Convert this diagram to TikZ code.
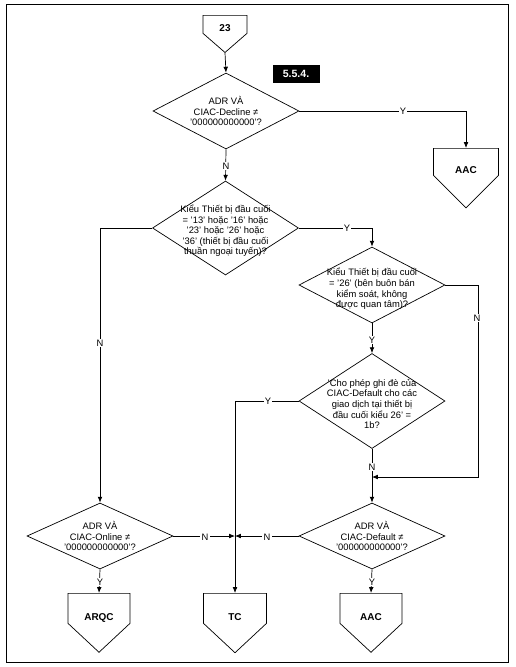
\documentclass[tikz,border=0pt]{standalone}
\usepackage{fontspec}
\setmainfont{Liberation Sans}
\usetikzlibrary{shapes.geometric,shapes.symbols,arrows.meta}

\tikzset{
  decision/.style={diamond, draw, semithick, inner sep=0pt, minimum width=4.38cm, minimum height=#1},
  decision/.default=2.28cm,
  qtext/.style={align=center, font=\fontsize{8}{9}\selectfont},
  offpage/.style={signal, signal to=south, signal pointer angle=94, draw, semithick, inner sep=0pt,
    minimum width=1.86cm, minimum height=0.9cm, text height=0.825cm, text depth=0.075cm,
    font=\fontsize{8.5}{10}\selectfont\bfseries},
  yn/.style={fill=white, inner sep=1pt, font=\fontsize{8}{9}\selectfont},
  flow/.style={semithick, ->},
  >={Latex[length=5pt,width=4pt]}
}

\begin{document}
\begin{tikzpicture}[x=0.03cm, y=-0.03cm]
  \useasboundingbox (0,0) rectangle (516,667);
  % frame
  \draw[thick] (6,4) rectangle (508,662);
  \node[fill=black, text=white, font=\fontsize{9}{10}\selectfont\bfseries, minimum width=1.41cm,
    minimum height=0.54cm, inner sep=0pt] (sec) at (296,74) {5.5.4.};

  % connectors in / out
  \node[offpage, signal pointer angle=98, minimum width=1.32cm, minimum height=0.54cm,
    text height=0.495cm, text depth=0.045cm, anchor=north] (start) at (225,15) {23};
  \node[offpage, signal pointer angle=90, minimum width=1.95cm, minimum height=0.81cm,
    text height=0.765cm, text depth=0.045cm, anchor=north] (aac1) at (466,148) {AAC};
  \node[offpage, anchor=north] (arqc) at (99,593) {ARQC};
  \node[offpage, minimum width=1.89cm, anchor=north] (tc) at (235,593) {TC};
  \node[offpage, anchor=north] (aac2) at (371,593) {AAC};

  % decisions
  \node[decision] (d1) at (226,111) {};
  \node[qtext] (d1t) at (226,111) {ADR VÀ\\CIAC-Decline ≠\\'000000000000'?};
  \node[decision=2.82cm] (d2) at (225.5,228) {};
  \node[qtext] (d2t) at (225.5,231) {Kiểu Thiết bị đầu cuối\\= '13' hoặc '16' hoặc\\'23' hoặc '26' hoặc\\'36' (thiết bị đầu cuối\\thuần ngoại tuyến)?};
  \node[decision] (d3) at (372,285) {};
  \node[qtext] (d3t) at (372,289) {Kiểu Thiết bị đầu cuối\\= '26' (bên buôn bán\\kiểm soát, không\\được quan tâm)?};
  \node[decision=2.85cm] (d4) at (372,401) {};
  \node[qtext] (d4t) at (372,404) {'Cho phép ghi đè của\\CIAC-Default cho các\\giao dịch tại thiết bị\\đầu cuối kiểu 26' =\\1b?};
  \node[decision=1.98cm] (d5) at (372,536) {};
  \node[qtext] (d5t) at (372,536) {ADR VÀ\\CIAC-Default ≠\\'000000000000'?};
  \node[decision=1.98cm] (online) at (100,536) {};
  \node[qtext] (onlinet) at (100,536) {ADR VÀ\\CIAC-Online ≠\\'000000000000'?};

  % flow
  \coordinate (join) at (372,477);
  \draw[flow] (start.south) -- (d1.north);
  \draw[flow] (d1.east) -| (aac1.north);
  \draw[flow] (d1.south) -- (d2.north);
  \draw[flow] (d2.west) -| (online.north);
  \draw[flow] (d2.east) -| (d3.north);
  \draw[flow] (d3.east) -- ++(33,0) |- (join);
  \draw[flow] (d3.south) -- (d4.north);
  \draw[flow] (d4.west) -| (tc.north);
  \draw[flow] (d4.south) -- (d5.north);
  \draw[flow] (online.east) -- (online.east -| tc.north);
  \draw[flow] (d5.west) -- (d5.west -| tc.north);
  \draw[flow] (online.south) -- (arqc.north);
  \draw[flow] (d5.south) -- (aac2.north);

  % Y / N
  \node[yn] (y1) at (403,111) {Y};
  \node[yn] (n1) at (226,166) {N};
  \node[yn] (n2) at (100,343) {N};
  \node[yn] (y2) at (347,228) {Y};
  \node[yn] (n3) at (477,318) {N};
  \node[yn] (y3) at (372,340) {Y};
  \node[yn] (y4) at (268,401) {Y};
  \node[yn] (n4) at (372,467) {N};
  \node[yn] (n5) at (205,537) {N};
  \node[yn] (n6) at (267,537) {N};
  \node[yn] (y5) at (100,582) {Y};
  \node[yn] (y6) at (372,582) {Y};
\end{tikzpicture}
\end{document}
